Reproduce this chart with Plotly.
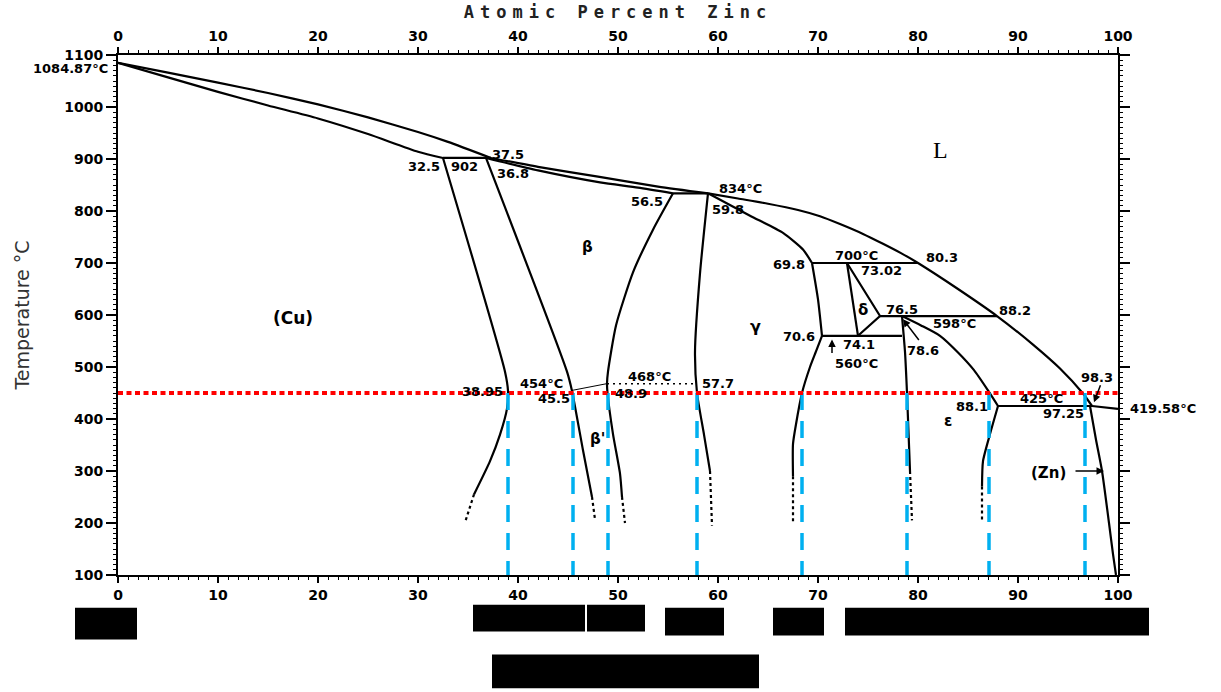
import plotly.graph_objects as go

# ---------------- data: (atomic % Zn, temperature °C) ----------------
x_ticks = [0, 10, 20, 30, 40, 50, 60, 70, 80, 90, 100]
y_ticks = [100, 200, 300, 400, 500, 600, 700, 800, 900, 1000, 1100]

liq1_x = [0, 5, 10, 15, 20, 25, 30, 33, 37.3]
liq1_t = [1084.87, 1066, 1047, 1027, 1005, 980, 952, 933, 902]
liq2_x = [37.3, 42, 48, 54, 59.0]
liq2_t = [902, 885, 866, 847, 834]
liq3_x = [59.0, 62, 65, 68, 70.2, 72.2, 74.5, 76.5, 78.3, 80.0, 84, 87.9, 91.5, 94.2, 96.5, 97.4]
liq3_t = [834, 824, 814, 802, 790, 775, 756, 737, 719, 700, 650, 598, 543, 497, 449, 425]
liq4_x = [97.4, 100]
liq4_t = [425, 419.58]

cu_sol_x = [0, 5, 10, 15, 20, 25, 30, 32.5]
cu_sol_t = [1084.87, 1057, 1029, 1003, 978, 948, 914, 902]

beta_sol_x = [36.8, 42, 48.2, 52, 55.5]
beta_sol_t = [902, 878, 855, 845, 834]

cu_solvus_x = [32.5, 38.7, 39.0, 38.9, 38.2, 37.2, 35.6]
cu_solvus_t = [902, 491, 454, 420, 370, 319, 255]
cu_solvus_dot_x = [35.6, 34.7]
cu_solvus_dot_t = [255, 201]

beta_left_x = [36.8, 44.9, 45.4, 46.5, 47.4]
beta_left_t = [902, 491, 454, 340, 250]
beta_left_dot_x = [47.4, 47.7]
beta_left_dot_t = [250, 207]

beta_right_x = [55.5, 53.5, 51.5, 49.8, 49.0, 48.9, 48.95, 49.5, 50.2, 50.4]
beta_right_t = [834, 764, 682, 580, 491, 468, 450, 371, 295, 250]
beta_right_dot_x = [50.4, 50.7]
beta_right_dot_t = [250, 200]

order_x = [45.4, 48.9]
order_t = [455, 468]
order_dot_x = [48.9, 57.8]
order_dot_t = [468, 468]

gam_left_x = [59.0, 58.2, 57.7, 57.9, 58.6, 59.2]
gam_left_t = [834, 680, 529, 450, 370, 300]
gam_left_dot_x = [59.2, 59.4]
gam_left_dot_t = [300, 195]

gam_top_x = [59.0, 63.2, 66.5, 68.5, 69.4]
gam_top_t = [834, 791, 758, 726, 700]
gam_mid_x = [69.4, 70.0, 70.4]
gam_mid_t = [700, 630, 560]
gam_low_x = [70.4, 69.8, 69.2, 68.4, 67.8, 67.5, 67.5]
gam_low_t = [560, 530, 500, 450, 390, 352, 290]
gam_low_dot_x = [67.5, 67.5]
gam_low_dot_t = [290, 200]

delta_a_x = [72.9, 74.0]
delta_a_t = [700, 560]
delta_b_x = [72.9, 76.2, 74.0]
delta_b_t = [700, 598, 560]

eps_left_x = [78.4, 78.7, 78.9, 79.2]
eps_left_t = [598, 529, 450, 300]
eps_left_dot_x = [79.2, 79.4]
eps_left_dot_t = [300, 205]

eps_right_x = [78.4, 80.3, 82.2, 84.0, 85.6, 87.0, 88.0]
eps_right_t = [598, 580, 560, 528, 494, 455, 425]
eps_low_x = [88.0, 87.2, 86.5, 86.4]
eps_low_t = [425, 371, 319, 270]
eps_low_dot_x = [86.4, 86.4]
eps_low_dot_t = [270, 202]

zn_x = [97.2, 97.8, 98.4, 99.1, 99.5, 99.8]
zn_t = [425, 360, 300, 200, 140, 100]

# invariant horizontals
inv_902 = ([32.5, 37.3], [902, 902])
inv_834 = ([55.5, 59.0], [834, 834])
inv_700 = ([69.4, 80.0], [700, 700])
inv_598 = ([76.2, 87.9], [598, 598])
inv_560 = ([70.4, 78.4], [560, 560])
inv_425 = ([88.0, 97.4], [425, 425])

ref_temp = 450
ref_x = [0, 100]
drop_x = [39.0, 45.5, 49.0, 57.9, 68.4, 78.9, 87.1, 96.7]
axis_bottom_t = 100

# labels: text, x, T, anchor
labels = [
    ("32.5", 32.4, 886, "right"),
    ("902", 34.65, 886, "center"),
    ("37.5", 39.0, 909, "center"),
    ("36.8", 39.5, 873, "center"),
    ("56.5", 52.9, 819, "center"),
    ("834°C", 62.2, 844, "center"),
    ("59.8", 61.0, 802, "center"),
    ("69.8", 67.1, 697, "center"),
    ("700°C", 73.8, 715, "center"),
    ("73.02", 76.3, 686, "center"),
    ("80.3", 82.4, 711, "center"),
    ("76.5", 78.4, 610, "center"),
    ("598°C", 83.6, 583, "center"),
    ("88.2", 89.7, 608, "center"),
    ("70.6", 68.1, 558, "center"),
    ("74.1", 74.1, 543, "center"),
    ("560°C", 73.8, 506, "center"),
    ("78.6", 80.5, 531, "center"),
    ("88.1", 85.4, 424, "center"),
    ("425°C", 92.3, 440, "center"),
    ("97.25", 94.5, 411, "center"),
    ("98.3", 97.9, 480, "center"),
    ("38.95", 38.7, 453, "right"),
    ("454°C", 42.3, 468, "center"),
    ("45.5", 43.6, 440, "center"),
    ("468°C", 53.1, 482, "center"),
    ("48.9", 51.3, 450, "center"),
    ("57.7", 60.0, 468, "center"),
]
# labels that sit outside the x range (x given as fraction of the plot width)
edge_labels = [
    ("1084.87°C", -0.008, 1075, "right"),
    ("419.58°C", 1.010, 421, "left"),
]
phase_labels = [
    ("(Cu)", 17.5, 594, 17),
    ("β", 46.9, 730, 15),
    ("β'", 47.9, 361, 15),
    ("γ", 63.7, 577, 16),
    ("δ", 74.5, 610, 15),
    ("ε", 83.0, 396, 15),
]
arrows = [  # head x, head T, tail x, tail T
    (71.4, 553, 71.4, 524),
    (78.5, 592, 80.2, 549),
    (97.6, 432, 98.3, 468),
    (98.6, 300, 95.6, 300),
]

# ---------------- figure ----------------
fig = go.Figure()

def curve(x, t, dash="solid", width=2.2, shape="spline"):
    fig.add_trace(go.Scatter(x=x, y=t, mode="lines",
                             line=dict(color="black", width=width, dash=dash, shape=shape,
                                       smoothing=0.6 if shape == "spline" else None),
                             showlegend=False, hoverinfo="skip"))

for cx, ct in [(liq1_x, liq1_t), (liq2_x, liq2_t), (liq3_x, liq3_t), (cu_sol_x, cu_sol_t),
               (beta_sol_x, beta_sol_t), (cu_solvus_x, cu_solvus_t), (beta_left_x, beta_left_t),
               (beta_right_x, beta_right_t), (gam_left_x, gam_left_t), (gam_top_x, gam_top_t),
               (gam_mid_x, gam_mid_t), (gam_low_x, gam_low_t), (eps_left_x, eps_left_t),
               (eps_right_x, eps_right_t), (eps_low_x, eps_low_t), (zn_x, zn_t)]:
    curve(cx, ct)

for cx, ct in [(liq4_x, liq4_t), inv_902, inv_834, inv_700, inv_598, inv_560, inv_425,
               (delta_a_x, delta_a_t), (delta_b_x, delta_b_t)]:
    curve(cx, ct, shape="linear")

for cx, ct in [(cu_solvus_dot_x, cu_solvus_dot_t), (beta_left_dot_x, beta_left_dot_t),
               (beta_right_dot_x, beta_right_dot_t), (gam_left_dot_x, gam_left_dot_t),
               (gam_low_dot_x, gam_low_dot_t), (eps_left_dot_x, eps_left_dot_t),
               (eps_low_dot_x, eps_low_dot_t)]:
    curve(cx, ct, dash="dot", width=2.2, shape="linear")

curve(order_x, order_t, width=1, shape="linear")
curve(order_dot_x, order_dot_t, dash="2px,4px", width=1.5, shape="linear")

# blue verticals
for xv in drop_x:
    fig.add_trace(go.Scatter(x=[xv, xv], y=[ref_temp, axis_bottom_t], mode="lines",
                             line=dict(color="#00B0F0", width=3.5, dash="17px,11px"),
                             showlegend=False, hoverinfo="skip", cliponaxis=False))
# red reference line
fig.add_trace(go.Scatter(x=ref_x, y=[ref_temp, ref_temp], mode="lines",
                         line=dict(color="#FF0000", width=4, dash="5px,3.5px"),
                         showlegend=False, hoverinfo="skip"))
# dummy for top axis
fig.add_trace(go.Scatter(x=ref_x, y=[None, None], xaxis="x2", mode="lines",
                         showlegend=False, hoverinfo="skip"))

num_font = dict(family="DejaVu Sans", size=13, color="black", weight="bold")
anns = []
for txt, ax_, at_, anc in labels:
    anns.append(dict(x=ax_, y=at_, xref="x", yref="y", text=txt, showarrow=False,
                     xanchor=anc, yanchor="middle", font=num_font))
for txt, px_, at_, anc in edge_labels:
    anns.append(dict(x=px_, y=at_, xref="paper", yref="y", text=txt, showarrow=False,
                     xanchor=anc, yanchor="middle", font=num_font))
for txt, ax_, at_, sz in phase_labels:
    anns.append(dict(x=ax_, y=at_, xref="x", yref="y", text=txt, showarrow=False,
                     font=dict(family="DejaVu Sans", size=sz, color="black", weight="bold")))
anns.append(dict(x=82.2, y=917, xref="x", yref="y", text="L", showarrow=False,
                 font=dict(family="Liberation Serif", size=24, color="black")))
anns.append(dict(x=93.0, y=297, xref="x", yref="y", text="(Zn)", showarrow=False,
                 xanchor="center", font=dict(family="DejaVu Sans", size=15, color="black", weight="bold")))
for hx, ht, tx, tt in arrows:
    anns.append(dict(x=hx, y=ht, ax=tx, ay=tt, xref="x", yref="y", axref="x", ayref="y",
                     text="", showarrow=True, arrowhead=2, arrowsize=1, arrowwidth=1.5,
                     arrowcolor="black"))

tick_font = dict(family="DejaVu Sans", size=14, color="black", weight="bold")
xcommon = dict(range=[0, 100], showgrid=False, zeroline=False, showline=True,
               linecolor="black", linewidth=2, ticks="outside", ticklen=6, tickwidth=1.5,
               tickcolor="black", tickmode="array", tickvals=x_ticks,
               minor=dict(tick0=0, dtick=1, ticks="outside", ticklen=3, tickwidth=1,
                          tickcolor="black"),
               tickfont=tick_font)

fig.update_layout(
    width=1221, height=692,
    margin=dict(l=118, r=103, t=51, b=117),
    paper_bgcolor="white", plot_bgcolor="white",
    xaxis=dict(**xcommon),
    xaxis2=dict(**xcommon, overlaying="x", side="top",
                title=dict(text='<span style="letter-spacing:6px">Atomic Percent Zinc</span>',
                           standoff=5,
                           font=dict(family="DejaVu Sans Mono", size=17, color="#222",
                                     weight="bold"))),
    yaxis=dict(range=[100, 1100], showgrid=False, zeroline=False, showline=True,
               linecolor="black", linewidth=2, mirror="ticks", ticks="outside", ticklen=10,
               tickwidth=1.5, tickcolor="black", tickmode="array", tickvals=y_ticks,
               minor=dict(tick0=0, dtick=10, ticks="outside", ticklen=3, tickwidth=1,
                          tickcolor="black"),
               tickfont=tick_font,
               title=dict(text="Temperature °C", standoff=30,
                          font=dict(family="DejaVu Sans", size=19, color="#333"))),
    annotations=anns,
    shapes=[
        dict(type="rect", xref="paper", yref="paper", x0=(75 - 118) / 1000, x1=(137 - 118) / 1000,
             y0=(575 - 640) / 524, y1=(575 - 608) / 524, fillcolor="black", line_width=0),
        dict(type="rect", xref="paper", yref="paper", x0=(473 - 118) / 1000, x1=(585 - 118) / 1000,
             y0=(575 - 632) / 524, y1=(575 - 605) / 524, fillcolor="black", line_width=0),
        dict(type="rect", xref="paper", yref="paper", x0=(587 - 118) / 1000, x1=(645 - 118) / 1000,
             y0=(575 - 632) / 524, y1=(575 - 605) / 524, fillcolor="black", line_width=0),
        dict(type="rect", xref="paper", yref="paper", x0=(665 - 118) / 1000, x1=(724 - 118) / 1000,
             y0=(575 - 636) / 524, y1=(575 - 608) / 524, fillcolor="black", line_width=0),
        dict(type="rect", xref="paper", yref="paper", x0=(773 - 118) / 1000, x1=(824 - 118) / 1000,
             y0=(575 - 636) / 524, y1=(575 - 608) / 524, fillcolor="black", line_width=0),
        dict(type="rect", xref="paper", yref="paper", x0=(845 - 118) / 1000, x1=(1149 - 118) / 1000,
             y0=(575 - 636) / 524, y1=(575 - 608) / 524, fillcolor="black", line_width=0),
        dict(type="rect", xref="paper", yref="paper", x0=(492 - 118) / 1000, x1=(759 - 118) / 1000,
             y0=(575 - 689) / 524, y1=(575 - 655) / 524, fillcolor="black", line_width=0),
    ],
)

fig.write_html("out.html")
